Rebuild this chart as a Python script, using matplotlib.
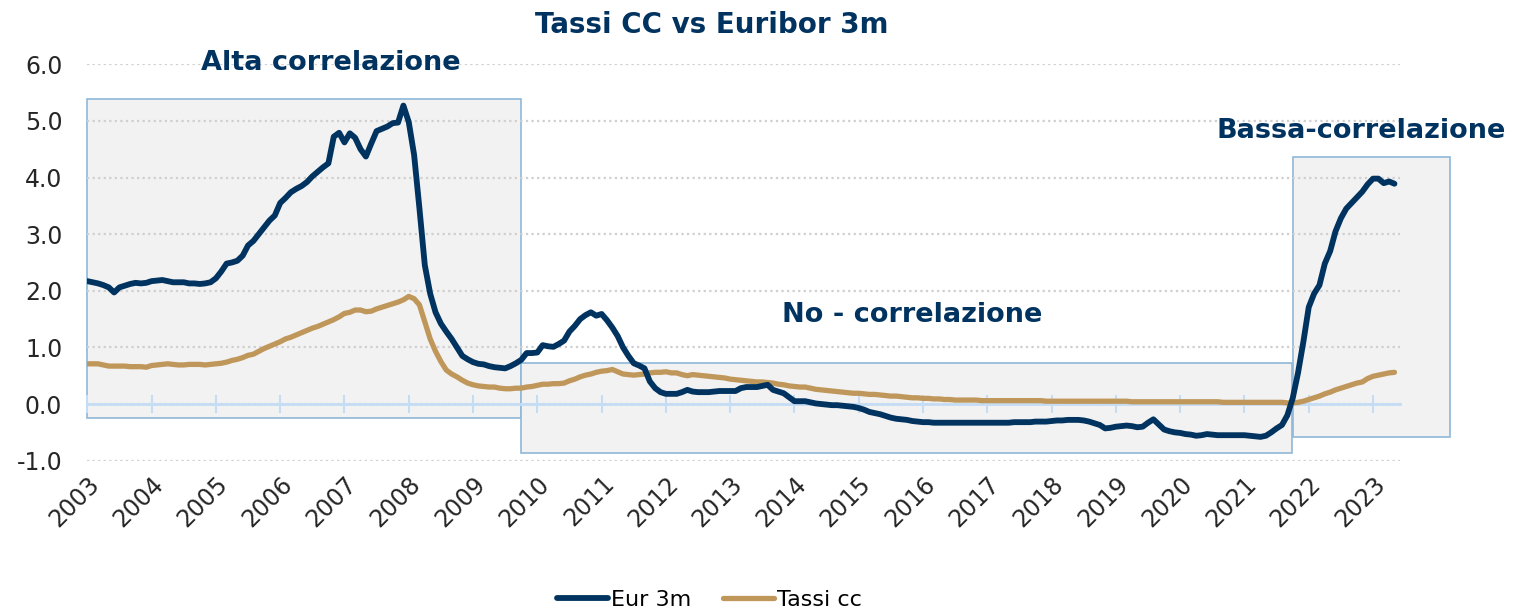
import numpy as np
import matplotlib.pyplot as plt
from matplotlib.patches import Rectangle

plt.rcParams['font.family'] = ['DejaVu Sans']

NAVY = '#00335f'
GOLD = '#c0975a'
BOX_FACE = '#f2f2f2'
BOX_EDGE = '#8fb8d8'
AXIS_BLUE = '#c5dcf5'
TEXT = '#262626'

# monthly series, starting January 2003
eur_3m = [
    2.17, 2.15, 2.13, 2.10, 2.06, 1.97, 2.06, 2.09, 2.12, 2.14, 2.13, 2.14,
    2.17, 2.18, 2.19, 2.17, 2.15, 2.15, 2.15, 2.13, 2.13, 2.12, 2.13, 2.15,
    2.22, 2.34, 2.48, 2.50, 2.53, 2.62, 2.80, 2.88, 3.00, 3.12, 3.24, 3.33,
    3.55, 3.64, 3.74, 3.80, 3.85, 3.92, 4.02, 4.10, 4.18, 4.25, 4.72, 4.79,
    4.62, 4.78, 4.70, 4.50, 4.37, 4.60, 4.82, 4.86, 4.90, 4.96, 4.97, 5.27,
    4.98, 4.40, 3.45, 2.45, 1.95, 1.62, 1.42, 1.28, 1.15, 1.00, 0.85, 0.79,
    0.74, 0.71, 0.70, 0.67, 0.65, 0.64, 0.63, 0.67, 0.72, 0.78, 0.90, 0.90,
    0.91, 1.04, 1.02, 1.01, 1.06, 1.12, 1.28, 1.38, 1.50, 1.57, 1.62, 1.56,
    1.59, 1.48, 1.35, 1.20, 1.00, 0.85, 0.72, 0.68, 0.63, 0.40, 0.28, 0.21,
    0.18, 0.18, 0.18, 0.21, 0.25, 0.22, 0.21, 0.21, 0.21, 0.22, 0.23, 0.23,
    0.23, 0.23, 0.28, 0.30, 0.30, 0.30, 0.32, 0.34, 0.25, 0.22, 0.19, 0.12,
    0.05, 0.05, 0.05, 0.03, 0.01, 0.00, -0.01, -0.02, -0.02, -0.03, -0.04, -0.05,
    -0.07, -0.10, -0.14, -0.16, -0.18, -0.21, -0.24, -0.26, -0.27, -0.28, -0.30, -0.31,
    -0.32, -0.32, -0.33, -0.33, -0.33, -0.33, -0.33, -0.33, -0.33, -0.33, -0.33, -0.33,
    -0.33, -0.33, -0.33, -0.33, -0.33, -0.32, -0.32, -0.32, -0.32, -0.31, -0.31, -0.31,
    -0.30, -0.29, -0.29, -0.28, -0.28, -0.28, -0.29, -0.31, -0.34, -0.37, -0.43, -0.42,
    -0.40, -0.39, -0.38, -0.39, -0.41, -0.40, -0.33, -0.27, -0.36, -0.45, -0.48, -0.50,
    -0.51, -0.53, -0.54, -0.56, -0.55, -0.53, -0.54, -0.55, -0.55, -0.55, -0.55, -0.55,
    -0.55, -0.56, -0.57, -0.58, -0.56, -0.50, -0.43, -0.37, -0.20, 0.10, 0.55, 1.10,
    1.71, 1.95, 2.10, 2.48, 2.70, 3.05, 3.28, 3.45, 3.55, 3.65, 3.75, 3.88,
    3.98, 3.98, 3.90, 3.93, 3.89,
]

tassi_cc = [
    0.71, 0.71, 0.71, 0.69, 0.67, 0.67, 0.67, 0.67, 0.66, 0.66, 0.66, 0.65,
    0.68, 0.69, 0.70, 0.71, 0.70, 0.69, 0.69, 0.70, 0.70, 0.70, 0.69, 0.70,
    0.71, 0.72, 0.74, 0.77, 0.79, 0.82, 0.86, 0.88, 0.93, 0.98, 1.02, 1.06,
    1.10, 1.15, 1.18, 1.22, 1.26, 1.30, 1.34, 1.37, 1.41, 1.45, 1.49, 1.54,
    1.60, 1.62, 1.66, 1.66, 1.63, 1.64, 1.68, 1.71, 1.74, 1.77, 1.80, 1.84,
    1.90, 1.86, 1.75, 1.45, 1.15, 0.93, 0.75, 0.60, 0.53, 0.48, 0.42, 0.37,
    0.34, 0.32, 0.31, 0.30, 0.30, 0.28, 0.27, 0.27, 0.28, 0.28, 0.30, 0.31,
    0.33, 0.35, 0.35, 0.36, 0.36, 0.37, 0.41, 0.44, 0.48, 0.51, 0.53, 0.56,
    0.58, 0.59, 0.61, 0.57, 0.53, 0.52, 0.51, 0.52, 0.53, 0.55, 0.56, 0.56,
    0.57, 0.55, 0.55, 0.52, 0.50, 0.52, 0.51, 0.50, 0.49, 0.48, 0.47, 0.46,
    0.44, 0.43, 0.42, 0.41, 0.40, 0.39, 0.39, 0.38, 0.37, 0.35, 0.34, 0.32,
    0.31, 0.30, 0.30, 0.28, 0.26, 0.25, 0.24, 0.23, 0.22, 0.21, 0.20, 0.19,
    0.19, 0.18, 0.17, 0.17, 0.16, 0.15, 0.14, 0.14, 0.13, 0.12, 0.11, 0.11,
    0.10, 0.10, 0.09, 0.09, 0.08, 0.08, 0.07, 0.07, 0.07, 0.07, 0.07, 0.06,
    0.06, 0.06, 0.06, 0.06, 0.06, 0.06, 0.06, 0.06, 0.06, 0.06, 0.06, 0.05,
    0.05, 0.05, 0.05, 0.05, 0.05, 0.05, 0.05, 0.05, 0.05, 0.05, 0.05, 0.05,
    0.05, 0.05, 0.05, 0.04, 0.04, 0.04, 0.04, 0.04, 0.04, 0.04, 0.04, 0.04,
    0.04, 0.04, 0.04, 0.04, 0.04, 0.04, 0.04, 0.04, 0.03, 0.03, 0.03, 0.03,
    0.03, 0.03, 0.03, 0.03, 0.03, 0.03, 0.03, 0.03, 0.02, 0.02, 0.03, 0.05,
    0.08, 0.11, 0.14, 0.18, 0.21, 0.25, 0.28, 0.31, 0.34, 0.37, 0.39, 0.45,
    0.49, 0.51, 0.53, 0.55, 0.56,
]

year_ticks = list(range(2003, 2024))
y_ticks = [-1, 0, 1, 2, 3, 4, 5, 6]

# shaded regimes: (start year, end year, low, high)
box_spans = [
    (2003.0, 2009.74, -0.25, 5.38),
    (2009.74, 2021.74, -0.86, 0.72),
    (2021.76, 2024.2, -0.58, 4.37),
]
box_labels = ['Alta correlazione', 'No - correlazione', 'Bassa-correlazione']
label_xy = [(2006.78, 6.03), (2015.83, 1.57), (2022.82, 4.82)]

months = np.arange(len(eur_3m))
x = 2003 + months / 12

fig = plt.figure(figsize=(15.16, 6.13), dpi=100)
ax = fig.add_axes([0.0576, 0.2485, 0.8659, 0.6467])
ax.set_xlim(2003, 2023.42)
ax.set_ylim(-1, 6)
ax.set_axisbelow(True)

for (x0, x1, y0, y1) in box_spans:
    ax.add_patch(Rectangle((x0, y0), x1 - x0, y1 - y0, facecolor=BOX_FACE,
                           edgecolor=BOX_EDGE, linewidth=1.2, zorder=0.3, clip_on=False))

ax.grid(axis='y', color='#cfcfcf', linestyle=(0, (1, 1.5)), linewidth=1.6)
ax.grid(axis='x', visible=False)

# horizontal axis line at zero, with its ticks crossing it
sec = ax.secondary_xaxis(1 / 7)
sec.set_zorder(1)
sec.set_xticks(year_ticks)
sec.tick_params(axis='x', which='both', direction='inout', length=13, width=1.5,
                color=AXIS_BLUE, labelbottom=False, labeltop=False)
for sp in sec.spines.values():
    sp.set_color(AXIS_BLUE)
    sp.set_linewidth(2)

ax.plot(x, tassi_cc, color=GOLD, linewidth=3.8, solid_joinstyle='round',
        solid_capstyle='round', zorder=2.5, label='Tassi cc')
ax.plot(x, eur_3m, color=NAVY, linewidth=4.2, solid_joinstyle='round',
        solid_capstyle='round', zorder=3, label='Eur 3m')

for sp in ax.spines.values():
    sp.set_visible(False)

ax.set_yticks(y_ticks)
ax.set_yticklabels([f'{v:.1f}' for v in y_ticks], fontsize=17, color=TEXT)
ax.tick_params(axis='y', length=0, pad=18)
ax.set_xticks(year_ticks)
ax.set_xticklabels([str(y) for y in year_ticks], fontsize=17, color=TEXT,
                   rotation=45, ha='right', rotation_mode='anchor')
ax.tick_params(axis='x', length=0, pad=8)

for text, (tx, ty) in zip(box_labels, label_xy):
    ax.text(tx, ty, text, ha='center', va='center', fontsize=19.5,
            fontweight='bold', color=NAVY, clip_on=False, zorder=5)

fig.text(0.4697, 0.959, 'Tassi CC vs Euribor 3m', ha='center', va='center',
         fontsize=20, fontweight='bold', color=NAVY)

handles, labels = ax.get_legend_handles_labels()
order = [1, 0]
fig.legend([handles[i] for i in order], [labels[i] for i in order],
           loc='center', bbox_to_anchor=(0.468, 0.021), ncol=2, frameon=False,
           fontsize=16, handlelength=2.3, handletextpad=0.15, columnspacing=1.4)

fig.savefig('out.png', dpi=100)
